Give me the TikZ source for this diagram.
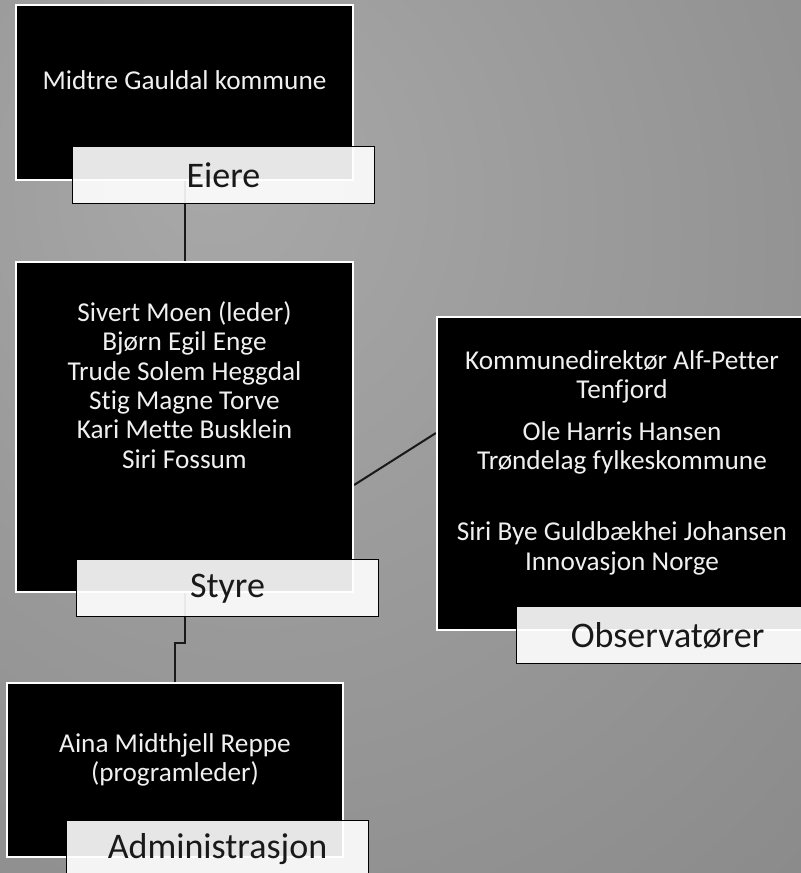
\documentclass[tikz,border=0pt]{standalone}
\usepackage{fontspec}
\setmainfont{Carlito}[Ligatures=NoCommon]
\usetikzlibrary{positioning, backgrounds}

\definecolor{bgIn}{gray}{0.66}
\definecolor{bgOut}{gray}{0.48}
\definecolor{lineGray}{gray}{0.1}
\definecolor{lblText}{gray}{0.1}
\pgfdeclareradialshading{bgglow}{\pgfpoint{-12bp}{16bp}}{color(0bp)=(bgIn); color(72bp)=(bgOut); color(100bp)=(bgOut)}

\tikzset{
  unitbox/.style={draw=white, fill=black, line width=0.045cm, inner sep=0pt},
  lblbox/.style={draw=black, fill=white, fill opacity=0.9, text opacity=1,
    line width=0.025cm, minimum width=6.04cm, minimum height=1.14cm,
    inner sep=0pt, anchor=north west, text=lblText,
    font=\fontsize{20.5}{24}\selectfont},
  bodytxt/.style={text=white!94!black, align=center,
    font=\fontsize{15.5}{16.7}\selectfont},
  conn/.style={draw=lineGray, line width=0.04cm},
}

\begin{document}
\begin{tikzpicture}[x=0.02cm, y=-0.02cm]
  \useasboundingbox (0,0) rectangle (801,873);

  % owners
  \node[unitbox, minimum width=6.74cm, minimum height=3.5cm] (eiereBox) at (184.5,92.5) {};
  \node[bodytxt] (eiereTxt) at ([yshift=0.25cm]eiereBox.center) {Midtre Gauldal kommune};
  \node[lblbox] (eiereLbl) at ([shift={(57,-35)}]eiereBox.south west) {Eiere};

  % board
  \node[unitbox, minimum width=6.74cm, minimum height=6.6cm] (styreBox) at (184.5,427) {};
  \node[bodytxt] (styreTxt) at ([yshift=0.84cm]styreBox.center)
    {Sivert Moen (leder)\\Bjørn Egil Enge\\Trude Solem Heggdal\\Stig Magne Torve\\Kari Mette Busklein\\Siri Fossum};
  \node[lblbox] (styreLbl) at ([shift={(61,-34)}]styreBox.south west) {Styre};

  % observers
  \node[unitbox, minimum width=7.4cm, minimum height=6.26cm] (obsBox) at (622,473.5) {};
  \node[bodytxt] (obsTxt) at ([yshift=0.22cm]obsBox.center)
    {Kommunedirektør Alf-Petter\\Tenfjord\\[7pt]Ole Harris Hansen\\Trøndelag fylkeskommune\\[24pt]Siri Bye Guldbækhei Johansen\\Innovasjon Norge};
  \node[lblbox] (obsLbl) at ([shift={(80,-25)}]obsBox.south west) {Observatører};

  % administration
  \node[unitbox, minimum width=6.72cm, minimum height=3.48cm] (adminBox) at (175,770) {};
  \node[bodytxt] (adminTxt) at ([yshift=0.2cm]adminBox.center) {Aina Midthjell Reppe\\(programleder)};
  \node[lblbox] (adminLbl) at ([shift={(60,-38)}]adminBox.south west) {Administrasjon};

  \begin{scope}[on background layer]
    \shade[shading=bgglow] (0,0) rectangle (801,873);
    \draw[conn] (eiereBox) -- (styreBox);
    \draw[conn] ([yshift=-1.16cm]styreBox.east) -- ([yshift=0.81cm]obsBox.west);
    \draw[conn] (styreBox.south) -- ++(0,50) -| (adminBox.north);
  \end{scope}
\end{tikzpicture}
\end{document}
